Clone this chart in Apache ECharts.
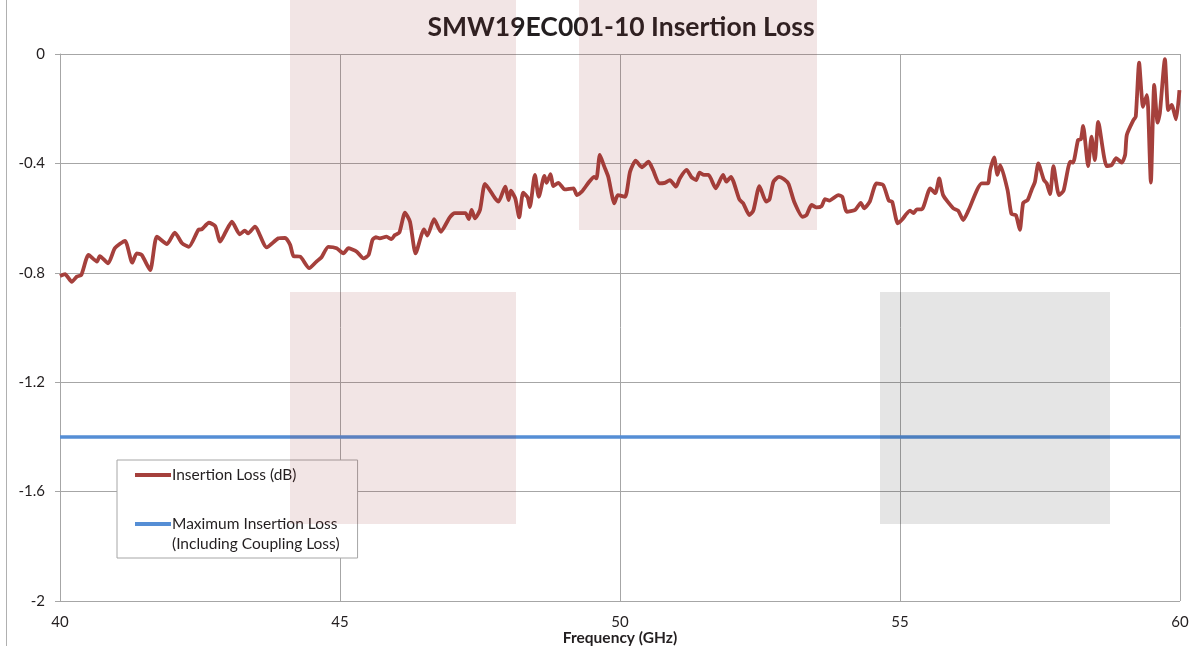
<!DOCTYPE html>
<html>
<head>
<meta charset="utf-8">
<script src="https://cdn.jsdelivr.net/npm/echarts@6/dist/echarts.min.js"></script>
<style>
html, body { margin: 0; padding: 0; background: #fff; }
#chart { width: 1193px; height: 646px; }
</style>
</head>
<body>
<div id="chart"></div>
<script>
// frequency (GHz) / insertion loss (dB)
const freq = [
	40.00, 40.09, 40.21, 40.30, 40.38, 40.51, 40.66, 40.71, 40.86, 40.98, 41.16, 41.29, 41.37, 41.46, 41.61, 41.73,
	41.91, 42.05, 42.18, 42.30, 42.47, 42.53, 42.66, 42.77, 42.86, 42.96, 43.07, 43.21, 43.30, 43.36, 43.48,
	43.69, 43.90, 44.02, 44.11, 44.17, 44.29, 44.45, 44.58, 44.67, 44.79, 44.94, 45.06, 45.15, 45.21, 45.30,
	45.42, 45.51, 45.58, 45.64, 45.71, 45.83, 45.92, 45.98, 46.06, 46.16, 46.25, 46.35, 46.50, 46.56, 46.68,
	46.80, 46.96, 47.05, 47.24, 47.30, 47.35, 47.41, 47.50, 47.59, 47.77, 47.83, 47.95, 48.01, 48.05, 48.13,
	48.20, 48.27, 48.35, 48.39, 48.48, 48.55, 48.65, 48.69, 48.76, 48.81, 48.90, 49.01, 49.17, 49.23, 49.32,
	49.45, 49.54, 49.58, 49.64, 49.72, 49.79, 49.90, 49.96, 50.09, 50.18, 50.28, 50.39, 50.51, 50.59, 50.70,
	50.80, 50.89, 51.00, 51.07, 51.19, 51.28, 51.36, 51.42, 51.50, 51.58, 51.71, 51.84, 51.90, 51.98, 52.13,
	52.20, 52.31, 52.38, 52.49, 52.61, 52.67, 52.74, 52.84, 52.93, 53.01, 53.11, 53.26, 53.33, 53.42, 53.51,
	53.60, 53.66, 53.74, 53.90, 53.97, 54.05, 54.20, 54.30, 54.36, 54.46, 54.58, 54.70, 54.80, 54.86, 54.96,
	55.03, 55.18, 55.24, 55.30, 55.39, 55.54, 55.63, 55.70, 55.77, 55.95, 56.04, 56.13, 56.22, 56.46, 56.57,
	56.61, 56.68, 56.74, 56.79, 56.92, 56.99, 57.07, 57.14, 57.20, 57.28, 57.35, 57.41, 57.47, 57.57, 57.62,
	57.68, 57.74, 57.84, 57.92, 58.04, 58.09, 58.18, 58.23, 58.27, 58.36, 58.42, 58.48, 58.54, 58.69, 58.78,
	58.86, 58.96, 59.02, 59.05, 59.17, 59.21, 59.27, 59.34, 59.41, 59.43, 59.48, 59.54, 59.60, 59.64, 59.73,
	59.79, 59.85, 59.93, 59.99
];
const insertionLoss = [
	-0.812, -0.805, -0.833, -0.814, -0.808, -0.735, -0.759, -0.739, -0.765, -0.710, -0.683, -0.763, -0.729, -0.735, -0.790, -0.668,
	-0.695, -0.653, -0.692, -0.705, -0.643, -0.641, -0.617, -0.629, -0.686, -0.650, -0.613, -0.659, -0.646, -0.656, -0.631,
	-0.707, -0.674, -0.672, -0.698, -0.739, -0.741, -0.783, -0.759, -0.743, -0.705, -0.710, -0.729, -0.710, -0.714, -0.723,
	-0.747, -0.735, -0.680, -0.670, -0.674, -0.668, -0.677, -0.662, -0.653, -0.580, -0.613, -0.729, -0.641, -0.664, -0.604,
	-0.650, -0.597, -0.582, -0.582, -0.604, -0.570, -0.601, -0.570, -0.475, -0.528, -0.540, -0.485, -0.534, -0.500, -0.528,
	-0.597, -0.507, -0.524, -0.560, -0.442, -0.522, -0.446, -0.471, -0.439, -0.483, -0.471, -0.495, -0.491, -0.516, -0.503,
	-0.467, -0.449, -0.455, -0.369, -0.412, -0.449, -0.546, -0.516, -0.522, -0.430, -0.390, -0.414, -0.394, -0.424, -0.473,
	-0.471, -0.461, -0.485, -0.454, -0.424, -0.451, -0.461, -0.434, -0.442, -0.442, -0.491, -0.442, -0.467, -0.449, -0.531,
	-0.546, -0.589, -0.573, -0.483, -0.540, -0.531, -0.467, -0.449, -0.458, -0.475, -0.540, -0.595, -0.589, -0.552, -0.561,
	-0.556, -0.531, -0.536, -0.516, -0.522, -0.577, -0.570, -0.544, -0.564, -0.540, -0.473, -0.479, -0.536, -0.540, -0.619,
	-0.607, -0.573, -0.582, -0.568, -0.568, -0.491, -0.509, -0.455, -0.516, -0.564, -0.573, -0.607, -0.573, -0.473, -0.473,
	-0.424, -0.378, -0.442, -0.406, -0.497, -0.585, -0.589, -0.643, -0.544, -0.534, -0.497, -0.467, -0.400, -0.461, -0.473,
	-0.512, -0.410, -0.516, -0.500, -0.394, -0.397, -0.314, -0.312, -0.263, -0.410, -0.302, -0.388, -0.248, -0.410, -0.406,
	-0.381, -0.397, -0.369, -0.296, -0.241, -0.229, -0.032, -0.193, -0.150, -0.193, -0.470, -0.113, -0.251, -0.217, -0.019,
	-0.205, -0.186, -0.239, -0.132
];
const maxInsertionLoss = -1.4;
const freqRange = [40, 60];
const seriesNames = ['Insertion Loss (dB)', '\nMaximum Insertion Loss\n(Including Coupling Loss)'];

const font = 'Lato, "Open Sans", sans-serif';
const textColor = '#231F20';
const gridColor = '#A6A6A6';

const chart = echarts.init(document.getElementById('chart'));

// watermark blocks laid over the plot (decoration, not data)
const overlay = [
	[290, 0, 226, 230, 'rgba(150,40,40,0.12)'],
	[579, 0, 238, 230, 'rgba(150,40,40,0.12)'],
	[290, 292, 226, 232, 'rgba(150,40,40,0.12)'],
	[880, 292, 230, 232, 'rgba(0,0,0,0.1)']
].map(function (r) {
	return {
		type: 'rect',
		z: 100,
		silent: true,
		shape: { x: r[0], y: r[1], width: r[2], height: r[3] },
		style: { fill: r[4] }
	};
});

const option = {
	animation: false,
	backgroundColor: '#fff',
	title: {
		text: 'SMW19EC001-10 Insertion Loss',
		left: 621,
		top: 14,
		textAlign: 'center',
		padding: 0,
		textStyle: { fontFamily: font, fontWeight: 'bold', fontSize: 26.5, color: textColor }
	},
	grid: { left: 60, right: 13, top: 54, bottom: 45, outerBoundsMode: 'none', containLabel: false },
	legend: {
		orient: 'vertical',
		left: 117,
		top: 460,
		padding: [5, 18, 4, 18],
		itemGap: 9,
		itemWidth: 36,
		itemHeight: 4,
		itemStyle: { borderWidth: 0 },
		icon: 'rect',
		backgroundColor: '#fff',
		borderColor: '#A6A6A6',
		borderWidth: 1,
		borderRadius: 0,
		textStyle: { fontFamily: font, fontSize: 15.5, color: textColor, lineHeight: 20, padding: [0, 0, 0, -4] },
		data: seriesNames
	},
	xAxis: {
		type: 'value',
		min: freqRange[0],
		max: freqRange[1],
		interval: 5,
		name: 'Frequency (GHz)',
		nameLocation: 'middle',
		nameGap: 29,
		nameMoveOverlap: false,
		nameTextStyle: { fontFamily: font, fontWeight: 'bold', fontSize: 15.5, color: textColor, verticalAlign: 'top' },
		axisLine: { lineStyle: { color: gridColor, width: 1 } },
		axisTick: { show: false },
		axisLabel: { margin: 14, fontFamily: font, fontSize: 15, color: textColor },
		splitLine: { show: true, lineStyle: { color: gridColor, width: 1 } }
	},
	yAxis: {
		type: 'value',
		min: -2,
		max: 0,
		interval: 0.4,
		axisLine: { show: true, lineStyle: { color: gridColor, width: 1 } },
		axisTick: { show: true, inside: false, length: 5, lineStyle: { color: gridColor } },
		axisLabel: { margin: 15, fontFamily: font, fontSize: 15, color: textColor },
		splitLine: { show: true, lineStyle: { color: gridColor, width: 1 } }
	},
	graphic: [
		{
			type: 'line',
			silent: true,
			shape: { x1: 6.5, y1: 0, x2: 6.5, y2: 646 },
			style: { stroke: '#B0B0B0', lineWidth: 1 }
		}
	].concat(overlay),
	series: [
		{
			name: seriesNames[0],
			type: 'line',
			showSymbol: false,
			smooth: 0.2,
			color: '#A5403C',
			lineStyle: { color: '#A5403C', width: 3.8 },
			data: freq.map(function (f, i) { return [f, insertionLoss[i]]; }),
			z: 3
		},
		{
			name: seriesNames[1],
			type: 'line',
			showSymbol: false,
			color: '#558ED5',
			lineStyle: { color: '#558ED5', width: 3.5 },
			data: [[freqRange[0], maxInsertionLoss], [freqRange[1], maxInsertionLoss]],
			z: 2
		}
	]
};
chart.setOption(option);
</script>
</body>
</html>
